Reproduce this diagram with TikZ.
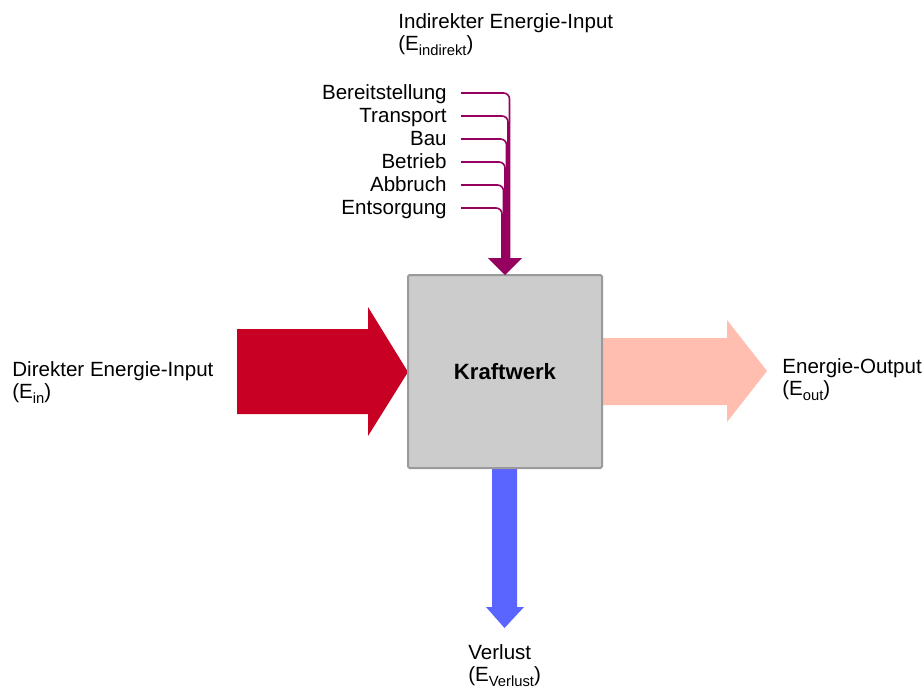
\documentclass[tikz,border=0pt]{standalone}
\usepackage{fontspec}
\setmainfont{Liberation Sans}
% lowered, smaller subscript text as used for the energy symbols
\newcommand\lowsub[1]{\raisebox{-0.5ex}{\fontsize{8.4}{9}\selectfont #1}}
\begin{document}
\begin{tikzpicture}[x=0.2mm,y=-0.2mm,
  lbl/.style={inner sep=0pt,font=\fontsize{11.7}{12.6}\selectfont},
  lbltwo/.style={lbl,align=left,anchor=north west},
  branch/.style={draw=feedpurple,line width=0.32mm,rounded corners=1.2mm}]
\definecolor{feedpurple}{HTML}{96005F}
\definecolor{directred}{HTML}{C80023}
\definecolor{outpink}{HTML}{FFBEAF}
\definecolor{lossblue}{HTML}{5A64FF}
\definecolor{boxgray}{HTML}{CCCCCC}
\definecolor{boxedge}{HTML}{9A9A9A}
\useasboundingbox (0,0) rectangle (923,689);

% direct energy input
\fill[directred] (237,329) -- (368,329) -- (368,307) -- (408,372)
  -- (368,436) -- (368,414) -- (237,414) -- cycle;
% energy output
\fill[outpink] (601,338) -- (727,338) -- (727,320) -- (767,371)
  -- (727,422) -- (727,405) -- (601,405) -- cycle;
% losses
\fill[lossblue] (492,467) -- (517,467) -- (517,607) -- (524,607)
  -- (504.5,628) -- (486,607) -- (492,607) -- cycle;

% power plant block
\node[draw=boxedge,fill=boxgray,line width=0.4mm,rounded corners=0.3mm,
  minimum width=194*0.2mm,minimum height=193*0.2mm,inner sep=0pt]
  (kw) at (505,371.5) {};
\node[lbl,font=\fontsize{12.6}{14}\selectfont\bfseries,anchor=base]
  (kwlabel) at (505,379) {Kraftwerk};

% indirect energy contributions merging into one stem
\foreach \name/\txt [count=\i from 0] in
  {bs/Bereitstellung,tr/Transport,bau/Bau,bt/Betrieb,ab/Abbruch,es/Entsorgung}{
  \pgfmathsetmacro{\yy}{93+23*\i}
  \pgfmathsetmacro{\xx}{509.5-1.5*\i}
  \node[lbl,anchor=base east] (\name) at (447,\yy+6) {\txt};
  \draw[branch] (461,\yy) -- (\xx,\yy) -- (\xx,261);
}
\fill[feedpurple] (488,258) -- (522,258) -- (505,275) -- cycle;

% labels
\node[lbltwo] (indir) at (398,13)
  {Indirekter Energie-Input\\(E\lowsub{indirekt})};
\node[lbltwo] (dir) at (12,361)
  {Direkter Energie-Input\\(E\lowsub{in})};
\node[lbltwo] (out) at (782,358)
  {Energie-Output\\(E\lowsub{out})};
\node[lbltwo] (loss) at (468,644)
  {Verlust\\(E\lowsub{Verlust})};
\end{tikzpicture}
\end{document}
